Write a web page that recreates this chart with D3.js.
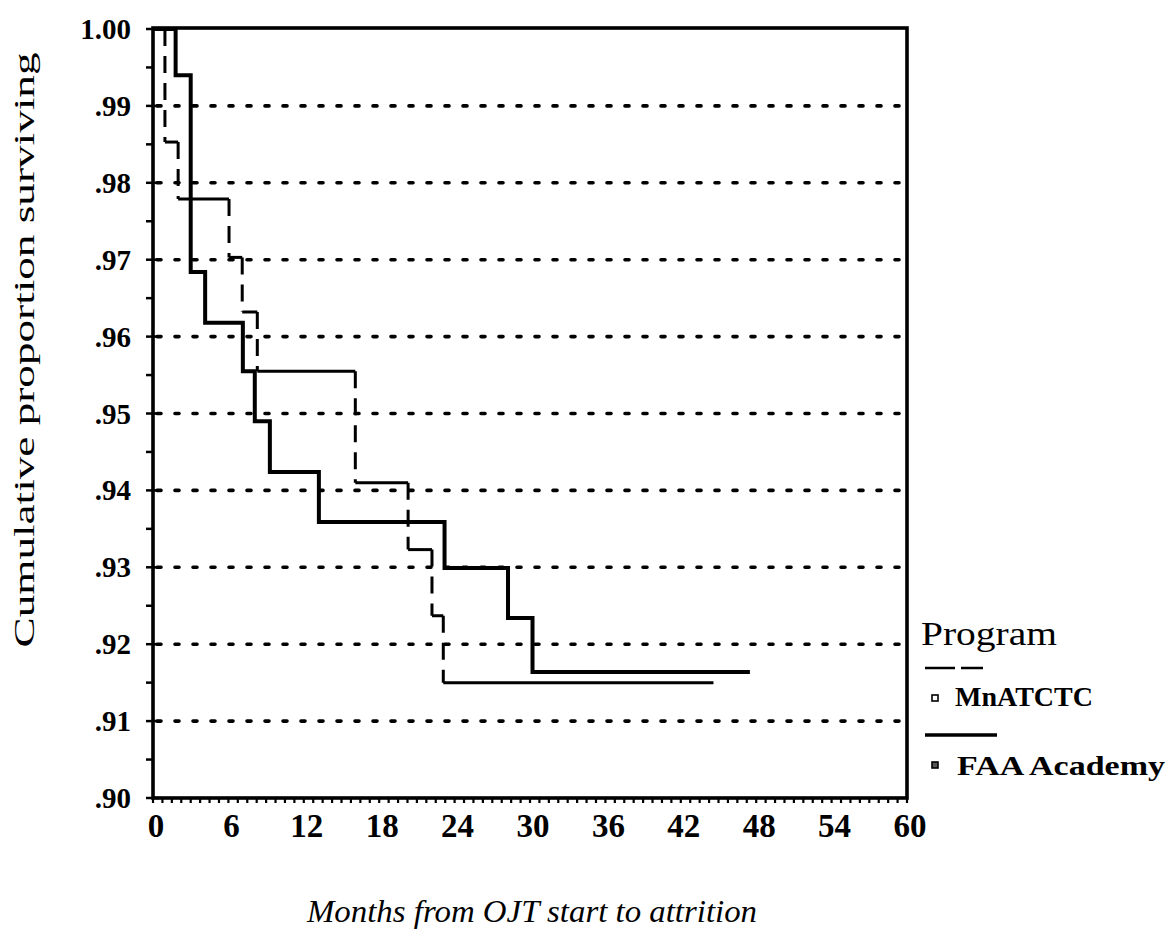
<!DOCTYPE html>
<html>
<head>
<meta charset="utf-8">
<script src="https://cdn.jsdelivr.net/npm/d3@7"></script>
<style>
  html, body { margin: 0; padding: 0; background: #ffffff; }
  svg { display: block; }
</style>
</head>
<body>
<svg id="chart" width="1170" height="933"></svg>
<script>
// ---- data ----
const xTickValues = [0, 6, 12, 18, 24, 30, 36, 42, 48, 54, 60];
const xTickLabels = ["0", "6", "12", "18", "24", "30", "36", "42", "48", "54", "60"];
const yTickValues = [0.90, 0.91, 0.92, 0.93, 0.94, 0.95, 0.96, 0.97, 0.98, 0.99, 1.00];
const yTickLabels = [".90", ".91", ".92", ".93", ".94", ".95", ".96", ".97", ".98", ".99", "1.00"];

const seriesNames = ["MnATCTC", "FAA Academy"];
// MnATCTC (dashed) step curve: time at which each level begins, last entry = end of line
const mnTimes = [0, 0.95, 2.0, 6.05, 7.1, 8.3, 16.1, 20.3, 22.2, 23.1, 44.6];
const mnSurv  = [1.0, 0.9853, 0.9779, 0.9703, 0.9632, 0.9555, 0.9410, 0.9323, 0.9237, 0.9150, 0.9150];
// FAA Academy (solid) step curve
const faaTimes = [0, 1.8, 3.0, 4.15, 7.15, 8.1, 9.3, 13.2, 23.2, 28.25, 30.2, 47.5];
const faaSurv  = [1.0, 0.9940, 0.9684, 0.9618, 0.9555, 0.9490, 0.9424, 0.9359, 0.9299, 0.9234, 0.9164, 0.9164];

const xTitle = "Months from OJT start to attrition";
const yTitle = "Cumulative proportion surviving";
const legendTitle = "Program";

const FONT = "'Liberation Serif', 'Times New Roman', Tinos, Times, 'Nimbus Roman', 'Nimbus Roman No9 L', serif";

// ---- layout ----
const svg = d3.select("#chart").attr("font-family", FONT);
const x = d3.scaleLinear().domain([0, 60]).range([153, 907]);
const y = d3.scaleLinear().domain([0.90, 1.00]).range([798, 29]);

// gridlines (dotted)
svg.append("g").selectAll("line")
  .data(yTickValues.filter(v => v > 0.905 && v < 0.995))
  .join("line")
  .attr("x1", x(0) + 4).attr("x2", x(60) - 2)
  .attr("y1", d => y(d)).attr("y2", d => y(d))
  .attr("stroke", "#000").attr("stroke-width", 3.6)
  .attr("stroke-linecap", "round")
  .attr("stroke-dasharray", "4,14");

// y minor ticks every 0.005
const yMinor = d3.range(0, 21).map(i => 0.90 + i * 0.005);
svg.append("g").selectAll("line")
  .data(yMinor)
  .join("line")
  .attr("x1", x(0) - 7).attr("x2", d => (Math.round(d * 1000) % 10 === 0) ? x(0) + 6 : x(0))
  .attr("y1", d => y(d)).attr("y2", d => y(d))
  .attr("stroke", "#000").attr("stroke-width", 2.5);

// x minor ticks every 0.75 month
const xMinor = d3.range(0, 81).map(i => i * 0.75);
svg.append("g").selectAll("line")
  .data(xMinor)
  .join("line")
  .attr("x1", d => x(d)).attr("x2", d => x(d))
  .attr("y1", y(0.90)).attr("y2", y(0.90) + 5)
  .attr("stroke", "#000").attr("stroke-width", 2.2);

// frame
svg.append("rect")
  .attr("x", x(0)).attr("y", y(1.0) - 1)
  .attr("width", x(60) - x(0)).attr("height", y(0.90) - y(1.0) + 1)
  .attr("fill", "none").attr("stroke", "#000").attr("stroke-width", 3.6);

// tick labels
svg.append("g").selectAll("text")
  .data(yTickValues)
  .join("text")
  .attr("font-family", FONT)
  .attr("x", 131).attr("y", d => y(d) + 10)
  .attr("text-anchor", "end")
  .attr("font-weight", "bold").attr("font-size", 29)
  .text((d, i) => yTickLabels[i]);

svg.append("g").selectAll("text")
  .data(xTickValues)
  .join("text")
  .attr("font-family", FONT)
  .attr("x", d => x(d) + 3).attr("y", 837)
  .attr("text-anchor", "middle")
  .attr("font-weight", "bold").attr("font-size", 33)
  .text((d, i) => xTickLabels[i]);

// axis titles
svg.append("text")
  .attr("font-family", FONT)
  .attr("transform", "translate(34,350) rotate(-90)")
  .attr("text-anchor", "middle")
  .attr("font-size", 29)
  .attr("textLength", 595).attr("lengthAdjust", "spacingAndGlyphs")
  .text(yTitle);

svg.append("text")
  .attr("font-family", FONT)
  .attr("x", 532).attr("y", 922)
  .attr("text-anchor", "middle")
  .attr("font-size", 31).attr("font-style", "italic")
  .attr("textLength", 450).attr("lengthAdjust", "spacingAndGlyphs")
  .text(xTitle);

// step segments builder
function stepSegments(times, surv) {
  const segs = [];
  for (let i = 0; i < times.length - 1; i++) {
    segs.push({ type: "h", x1: times[i], x2: times[i + 1], y1: surv[i], y2: surv[i] });
    if (surv[i + 1] !== surv[i]) {
      segs.push({ type: "v", x1: times[i + 1], x2: times[i + 1], y1: surv[i], y2: surv[i + 1] });
    }
  }
  return segs;
}

// MnATCTC: horizontals continuous, verticals dashed
const mnSegs = stepSegments(mnTimes, mnSurv);
svg.append("g").selectAll("line")
  .data(mnSegs)
  .join("line")
  .attr("x1", d => x(d.x1)).attr("x2", d => x(d.x2))
  .attr("y1", d => y(d.y1)).attr("y2", d => y(d.y2))
  .attr("stroke", "#000").attr("stroke-width", 3)
  .attr("stroke-dasharray", d => d.type === "v" ? "17,10" : null);

// FAA Academy: solid thick step line
const faaPath = d3.line()
  .x(d => x(d[0])).y(d => y(d[1]))
  .curve(d3.curveStepAfter);
svg.append("path")
  .datum(faaTimes.map((t, i) => [t, faaSurv[i]]))
  .attr("d", faaPath)
  .attr("fill", "none").attr("stroke", "#000").attr("stroke-width", 4);

// legend
svg.append("text")
  .attr("font-family", FONT)
  .attr("x", 921).attr("y", 645)
  .attr("font-size", 34)
  .attr("textLength", 136).attr("lengthAdjust", "spacingAndGlyphs")
  .text(legendTitle);

svg.append("line")
  .attr("x1", 925).attr("x2", 983).attr("y1", 668).attr("y2", 668)
  .attr("stroke", "#000").attr("stroke-width", 2.6)
  .attr("stroke-dasharray", "30,6");
svg.append("rect")
  .attr("x", 932).attr("y", 695).attr("width", 6).attr("height", 6)
  .attr("fill", "#fff").attr("stroke", "#000").attr("stroke-width", 1.6);
svg.append("text")
  .attr("font-family", FONT)
  .attr("x", 955).attr("y", 706)
  .attr("font-size", 28).attr("font-weight", "bold")
  .attr("textLength", 138).attr("lengthAdjust", "spacingAndGlyphs")
  .text(seriesNames[0]);

svg.append("line")
  .attr("x1", 925).attr("x2", 997).attr("y1", 735).attr("y2", 735)
  .attr("stroke", "#000").attr("stroke-width", 3.6);
svg.append("rect")
  .attr("x", 932).attr("y", 762).attr("width", 6).attr("height", 6)
  .attr("fill", "#555").attr("stroke", "#000").attr("stroke-width", 1.6);
svg.append("text")
  .attr("font-family", FONT)
  .attr("x", 957).attr("y", 775)
  .attr("font-size", 28).attr("font-weight", "bold")
  .attr("textLength", 208).attr("lengthAdjust", "spacingAndGlyphs")
  .text(seriesNames[1]);
</script>
</body>
</html>
